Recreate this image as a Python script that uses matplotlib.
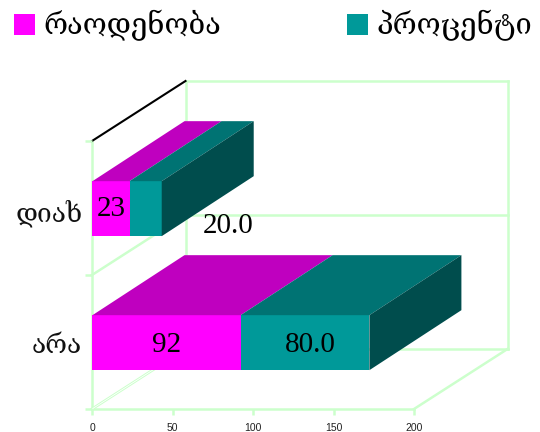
import matplotlib
matplotlib.use("Agg")
import matplotlib.pyplot as plt
from matplotlib.patches import Polygon, Patch

categories = ["არა", "დიახ"]
counts = [92, 23]
percents = [80.0, 20.0]
series_names = ["რაოდენობა", "პროცენტი"]
x_ticks = [0, 50, 100, 150, 200]

W, H = 540, 432
fig = plt.figure(figsize=(W / 100, H / 100), dpi=100, facecolor="white")
L, R, T, B = 92, 414, 141, 409
ax = fig.add_axes([L / W, (H - B) / H, (R - L) / W, (B - T) / H])
ax.set_xlim(0, 200)
ax.set_ylim(0, 2)
ax.patch.set_visible(False)

GREEN = "#CCFFCC"
GEO = ["DejaVu Serif", "DejaVu Sans"]
NUM = "Liberation Serif"
PX = (R - L) / 200
PY = (B - T) / 2
DX = 93.5 / PX
DY = 60 / PY
BAR_DX = 92 / PX
BAR_H = 55 / PY


def line(xs, ys, **kw):
    kw.setdefault("color", GREEN)
    kw.setdefault("lw", 1.8)
    kw.setdefault("zorder", 1)
    kw.setdefault("solid_capstyle", "projecting")
    ax.plot(xs, ys, clip_on=False, **kw)


# back wall
for level in (0, 1, 2):
    line([DX, 200 + DX], [level + DY, level + DY])
line([DX, DX], [DY, 2 + DY])
line([200 + DX, 200 + DX], [DY, 2 + DY])
# floor right edge and left-wall diagonals
line([200, 200 + DX], [0, DY])
line([0, DX], [1, 1 + DY])
line([0, DX], [0, DY], lw=2)
line([0, DX], [0, DY], lw=0.6, color="white", zorder=1.1)
line([0, DX], [2, 2 + DY], color="black", lw=1.5, zorder=1.2)

# spines and ticks
for side in ("top", "right"):
    ax.spines[side].set_visible(False)
for side in ("left", "bottom"):
    ax.spines[side].set_color(GREEN)
    ax.spines[side].set_linewidth(1.8)
    ax.spines[side].set_zorder(1)

ax.set_xticks(x_ticks)
ax.set_xticklabels([str(v) for v in x_ticks], fontsize=7.5, family="Liberation Sans", color="#222222")
ax.tick_params(axis="x", color=GREEN, width=1.8, length=4, pad=6)
ax.set_yticks([0.495, 1.485])
ax.set_yticklabels(categories, fontsize=19, family=GEO, color="#111111")
ax.tick_params(axis="y", which="major", length=0, pad=7)
ax.set_yticks([0, 1, 2], minor=True)
ax.tick_params(axis="y", which="minor", color=GREEN, width=1.8, length=5)

COLORS = ["#FF00FF", "#009999"]
TOPS = ["#BF00BF", "#007373"]
SIDE = "#004D4D"

# bars, drawn back to front
for i in (1, 0):
    y = i + 0.5 - 0.005
    y0, y1 = y - BAR_H / 2, y + BAR_H / 2
    left = 0.3
    z = 3 + (1 - i)
    for j, value in enumerate((counts[i], percents[i])):
        ax.barh(y, value, BAR_H, left=left, color=COLORS[j], zorder=z, clip_on=False)
        ax.add_patch(Polygon([(left, y1), (left + value, y1), (left + value + BAR_DX, y1 + DY), (left + BAR_DX, y1 + DY)],
                             closed=True, fc=TOPS[j], ec="none", zorder=z, clip_on=False))
        left += value
    ax.add_patch(Polygon([(left, y0), (left + BAR_DX, y0 + DY), (left + BAR_DX, y1 + DY), (left, y1)],
                         closed=True, fc=SIDE, ec="none", zorder=z, clip_on=False))

# value labels
label_kw = dict(family=NUM, fontsize=21, ha="center", va="center", color="black", zorder=6)
ax.text(counts[0] / 2 + 0.3, 0.475, f"{counts[0]}", **label_kw)
ax.text(counts[0] + percents[0] / 2 + 3.5, 0.475, f"{percents[0]:.1f}", **label_kw)
ax.text(counts[1] / 2 + 0.5, 1.49, f"{counts[1]}", **label_kw)
ax.text(84.5, 1.365, f"{percents[1]:.1f}", **label_kw)

# legend
handles = [Patch(fc=c, ec="none", label=n) for c, n in zip(COLORS, series_names)]
fig.legend(handles=handles, loc="upper left", bbox_to_anchor=(14 / W, 1 - 10 / H), ncols=2, frameon=False,
           prop={"family": GEO, "size": 21}, handlelength=0.72, handleheight=0.72,
           handletextpad=0.3, columnspacing=4.3, borderpad=0, borderaxespad=0)

fig.savefig("out.png", dpi=100, facecolor="white")
